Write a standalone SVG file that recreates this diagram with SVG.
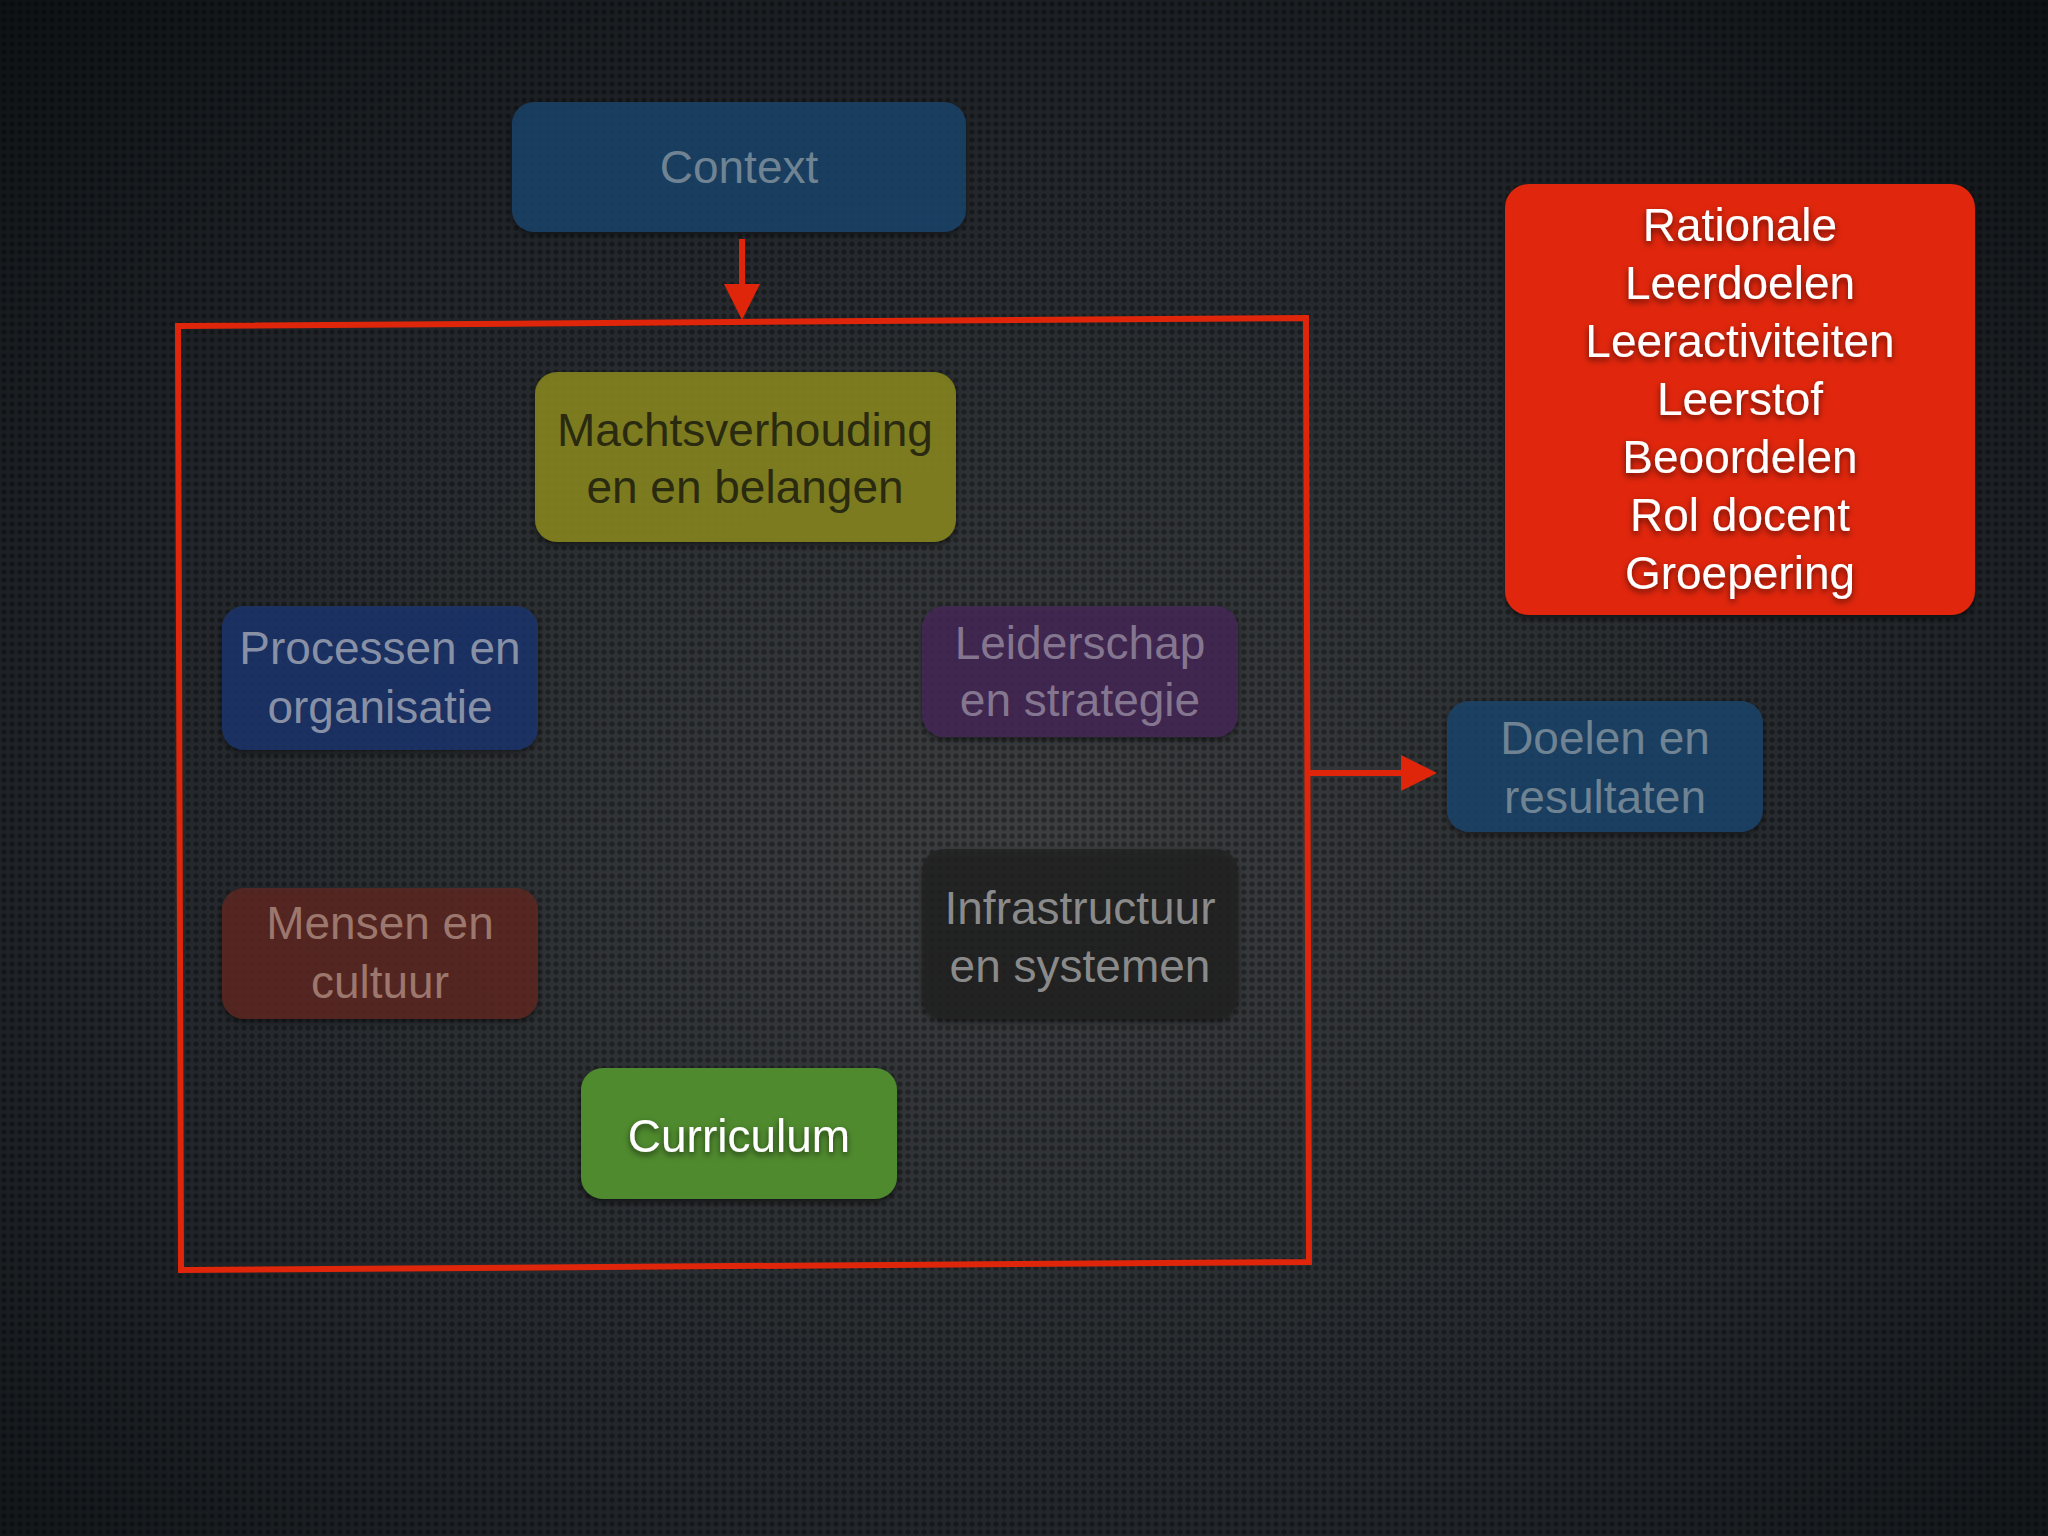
<svg xmlns="http://www.w3.org/2000/svg" width="2048" height="1536" viewBox="0 0 2048 1536">
<defs>
<radialGradient id="bg" cx="0.5" cy="0.55" r="0.75">
<stop offset="0" stop-color="#3c3e40"/>
<stop offset="0.6" stop-color="#22262a"/>
<stop offset="1" stop-color="#0e1114"/>
</radialGradient>
<pattern id="dots" width="8" height="8" patternUnits="userSpaceOnUse">
<circle cx="4" cy="4" r="2.6" fill="#000" fill-opacity="0.35"/>
</pattern>
<marker id="ah" markerWidth="6" markerHeight="6" refX="5" refY="3" orient="auto" markerUnits="strokeWidth">
<path d="M0,0 L6,3 L0,6 Z" fill="#e0260a"/>
</marker>
<filter id="sh" x="-20%" y="-20%" width="140%" height="140%">
<feDropShadow dx="0" dy="3" stdDeviation="3" flood-color="#000" flood-opacity="0.6"/>
</filter>
</defs>
<style>
text{font-family:"Liberation Sans",Arial,sans-serif;font-size:46px;text-anchor:middle}
.box{filter:url(#sh)}
</style>
<rect width="2048" height="1536" fill="url(#bg)"/>
<rect width="2048" height="1536" fill="url(#dots)"/>
<g id="context"><rect class="box" x="512" y="102" width="454" height="130" rx="22" fill="#1d4670" fill-opacity="0.75"/><text x="739" y="183" fill="#6f8393">Context</text></g>
<g id="connectors" stroke="#e0260a" stroke-width="6" fill="none">
<line x1="742" y1="239" x2="742" y2="314" marker-end="url(#ah)"/>
<polygon points="178,326 1306,318 1309,1262 181,1270"/>
<line x1="1306" y1="773" x2="1431" y2="773" marker-end="url(#ah)"/>
</g>
<g id="macht"><rect class="box" x="535" y="372" width="421" height="170" rx="22" fill="#87861c" fill-opacity="0.85"/><text x="745" y="446" fill="#2a2a10">Machtsverhouding</text><text x="745" y="503" fill="#2a2a10">en en belangen</text></g>
<g id="processen"><rect class="box" x="222" y="606" width="316" height="144" rx="22" fill="#1c3672" fill-opacity="0.75"/><text x="380" y="664" fill="#8890a6">Processen en</text><text x="380" y="723" fill="#8890a6">organisatie</text></g>
<g id="leiderschap"><rect class="box" x="922" y="606" width="316" height="131" rx="22" fill="#45285a" fill-opacity="0.75"/><text x="1080" y="659" fill="#857690">Leiderschap</text><text x="1080" y="716" fill="#857690">en strategie</text></g>
<g id="mensen"><rect class="box" x="222" y="888" width="316" height="131" rx="22" fill="#62271f" fill-opacity="0.75"/><text x="380" y="939" fill="#9c776e">Mensen en</text><text x="380" y="998" fill="#9c776e">cultuur</text></g>
<g id="infra"><rect class="box" x="922" y="849" width="316" height="170" rx="22" fill="#222222" fill-opacity="0.75"/><text x="1080" y="924" fill="#8a8a8a">Infrastructuur</text><text x="1080" y="982" fill="#8a8a8a">en systemen</text></g>
<g id="curriculum"><rect class="box" x="581" y="1068" width="316" height="131" rx="22" fill="#4f8a2f"/><text x="739" y="1152" fill="#ffffff" style="filter:url(#sh)">Curriculum</text></g>
<g id="doelen"><rect class="box" x="1447" y="701" width="316" height="131" rx="22" fill="#1d4670" fill-opacity="0.75"/><text x="1605" y="754" fill="#6f8393">Doelen en</text><text x="1605" y="813" fill="#6f8393">resultaten</text></g>
<g id="rationale"><rect class="box" x="1505" y="184" width="470" height="431" rx="24" fill="#e0260a"/>
<g fill="#ffffff" style="filter:url(#sh)">
<text x="1740" y="241">Rationale</text><text x="1740" y="299">Leerdoelen</text><text x="1740" y="357">Leeractiviteiten</text><text x="1740" y="415">Leerstof</text><text x="1740" y="473">Beoordelen</text><text x="1740" y="531">Rol docent</text><text x="1740" y="589">Groepering</text>
</g></g>
</svg>
